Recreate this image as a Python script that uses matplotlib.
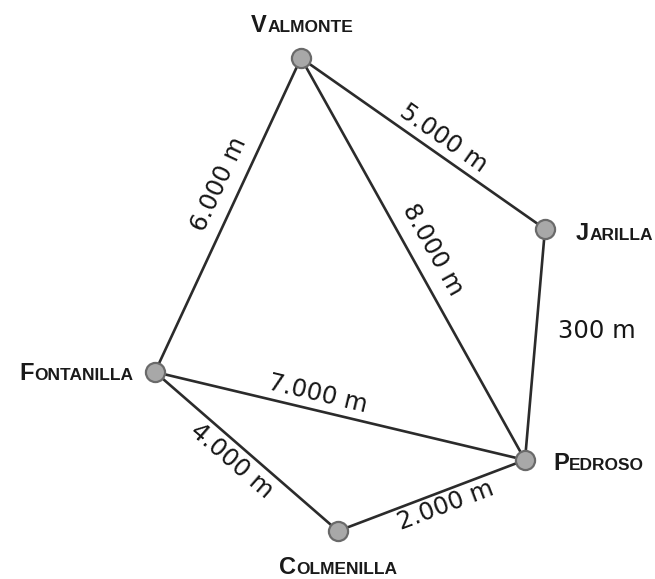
import numpy as np
import matplotlib
matplotlib.use('Agg')
from matplotlib import pyplot as plt

# nodes (pixel positions in the drawing, y grows downward)
names = ['Valmonte', 'Jarilla', 'Fontanilla', 'Pedroso', 'Colmenilla']
node_x = [301, 545, 155, 525, 338]
node_y = [58, 229, 372, 460, 531]

# edges and their distances
edge_a = ['Valmonte', 'Valmonte', 'Valmonte', 'Jarilla', 'Fontanilla', 'Fontanilla', 'Colmenilla']
edge_b = ['Jarilla', 'Fontanilla', 'Pedroso', 'Pedroso', 'Pedroso', 'Colmenilla', 'Pedroso']
edge_text = ['5.000 m', '6.000 m', '8.000 m', '300 m', '7.000 m', '4.000 m', '2.000 m']

# where each distance label sits (center, pixels) and whether it follows the edge
edge_lab_x = [443, 219, 433, 597, 318, 232, 446]
edge_lab_y = [138, 184, 250, 331, 394, 461, 506]
edge_flat = [False, False, False, True, False, False, False]

# node label placement: (x, y, horizontal alignment)
label_pos = {
    'Valmonte': (302, 24, 'center'),
    'Jarilla': (576, 232, 'left'),
    'Fontanilla': (133, 372, 'right'),
    'Pedroso': (553, 462, 'left'),
    'Colmenilla': (338, 566, 'center'),
}

W, H = 655, 579
fig = plt.figure(figsize=(W / 100, H / 100), dpi=100)
ax = fig.add_axes([0, 0, 1, 1])
ax.set_xlim(0, W)
ax.set_ylim(H, 0)
ax.axis('off')

pos = {n: (x, y) for n, x, y in zip(names, node_x, node_y)}
lab_font = ['DejaVu Sans']

for a, b, t, lx, ly, flat in zip(edge_a, edge_b, edge_text, edge_lab_x, edge_lab_y, edge_flat):
    (x1, y1), (x2, y2) = pos[a], pos[b]
    ax.plot([x1, x2], [y1, y2], color='#2b2b2b', lw=1.9, zorder=1, solid_capstyle='round')
    dx, dy = x2 - x1, y2 - y1
    if dx < 0:
        dx, dy = -dx, -dy
    ang = 0 if flat else np.degrees(np.arctan2(-dy, dx))
    ax.text(lx, ly, t, fontsize=17.5, rotation=ang, rotation_mode='anchor',
            ha='center', va='center', color='#161616', family=lab_font)

ax.scatter(node_x, node_y, s=190, c='#a8a8a8', edgecolors='#6a6a6a', linewidths=1.6, zorder=3)

# small caps node labels
fig.canvas.draw()
renderer = fig.canvas.get_renderer()
fam = ['Liberation Sans']
for n in names:
    x, y, ha = label_pos[n]
    up = n.upper()
    t1 = ax.text(0, 0, up[0], fontsize=17, weight='bold', family=fam, color='#1a1a1a')
    t2 = ax.text(0, 0, up[1:], fontsize=12.5, weight='bold', family=fam, color='#1a1a1a')
    w1 = t1.get_window_extent(renderer).width
    w2 = t2.get_window_extent(renderer).width
    total = w1 + w2
    if ha == 'center':
        left = x - total / 2
    elif ha == 'right':
        left = x - total
    else:
        left = x
    base = y + 8
    t1.set_position((left, base))
    t2.set_position((left + w1 + 0.5, base))
    for t in (t1, t2):
        t.set_va('baseline')
        t.set_ha('left')

fig.savefig('out.png', dpi=100, facecolor='white')
